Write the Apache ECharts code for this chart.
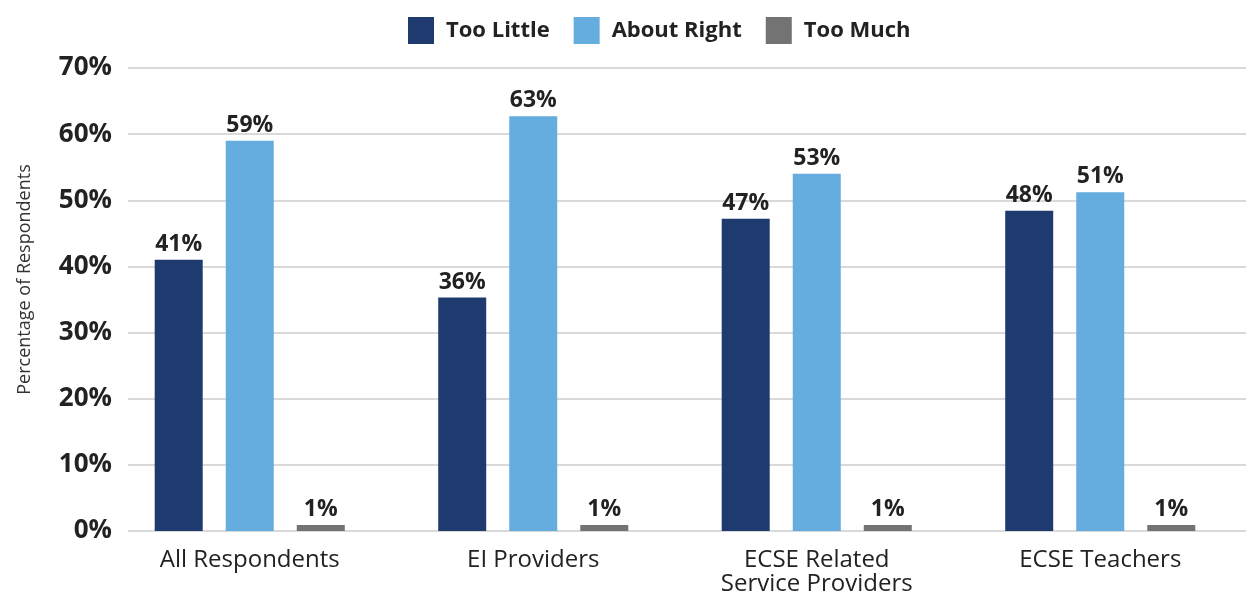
<!DOCTYPE html>
<html><head><meta charset="utf-8">
<script src="https://cdn.jsdelivr.net/npm/echarts@6/dist/echarts.min.js"></script>
<style>html,body{margin:0;padding:0;background:#fff}#c{width:1248px;height:597px}</style>
</head><body><div id="c"></div>
<script>
var categories = ['All Respondents', 'EI Providers', 'ECSE Related\nService Providers', 'ECSE Teachers'];
var seriesNames = ['Too Little', 'About Right', 'Too Much'];
var tooLittle = [41.0, 35.3, 47.2, 48.4];
var aboutRight = [59.0, 62.7, 54.0, 51.2];
var tooMuch = [0.9, 0.9, 0.9, 0.9];
var tooLittleLabels = ['41%', '36%', '47%', '48%'];
var aboutRightLabels = ['59%', '63%', '53%', '51%'];
var tooMuchLabels = ['1%', '1%', '1%', '1%'];
var yTicks = [0, 10, 20, 30, 40, 50, 60, 70];
var colors = ['#1F3A6E', '#65ADDE', '#737373'];

var FONT = '"Open Sans"';
function mkSeries(name, data, labels, color) {
  return {
    name: name, type: 'bar', xAxisIndex: 1, yAxisIndex: 1,
    data: data, barWidth: 48, barGap: '48%',
    itemStyle: { color: color },
    label: { show: true, position: 'top', distance: 4, color: '#222', fontFamily: FONT,
      fontWeight: 'bold', fontSize: 23,
      formatter: function (p) { return labels[p.dataIndex]; } }
  };
}
var chart = echarts.init(document.getElementById('c'));
chart.setOption({
  animation: false,
  textStyle: { fontFamily: FONT },
  color: colors,
  legend: {
    top: 17, left: 408, padding: 0, itemWidth: 26, itemHeight: 27, itemGap: 24, icon: 'rect',
    textStyle: { fontFamily: FONT, fontWeight: 'bold', fontSize: 22, color: '#222', padding: [0, 0, 0, 7] },
    data: seriesNames
  },
  grid: [
    { left: 128, right: 2, top: 68, bottom: 66 },
    { left: 108, right: 6, top: 68, bottom: 66 }
  ],
  xAxis: [
    { gridIndex: 0, type: 'category', data: categories, show: false },
    { gridIndex: 1, type: 'category', data: categories,
      axisLine: { show: false }, axisTick: { show: false },
      axisLabel: { color: '#222', fontFamily: FONT, fontSize: 24, margin: 17, lineHeight: 24 } }
  ],
  yAxis: [
    { gridIndex: 0, type: 'value', min: 0, max: 70, interval: 10,
      name: 'Percentage of Respondents', nameLocation: 'middle', nameGap: 94,
      nameTextStyle: { fontFamily: FONT, fontSize: 18, color: '#333', padding: [0, 0, 0, 40] },
      axisLine: { show: false }, axisTick: { show: false },
      splitLine: { lineStyle: { color: '#D9D9D9', width: 2 } },
      axisLabel: { color: '#222', fontFamily: FONT, fontWeight: 'bold', fontSize: 26, margin: 16,
        formatter: function (v) { return yTicks.indexOf(v) >= 0 ? v + '%' : ''; } } },
    { gridIndex: 1, type: 'value', min: 0, max: 70, interval: 10, show: false,
      splitLine: { show: false } }
  ],
  series: [
    mkSeries(seriesNames[0], tooLittle, tooLittleLabels, colors[0]),
    mkSeries(seriesNames[1], aboutRight, aboutRightLabels, colors[1]),
    mkSeries(seriesNames[2], tooMuch, tooMuchLabels, colors[2])
  ]
});
</script></body></html>
